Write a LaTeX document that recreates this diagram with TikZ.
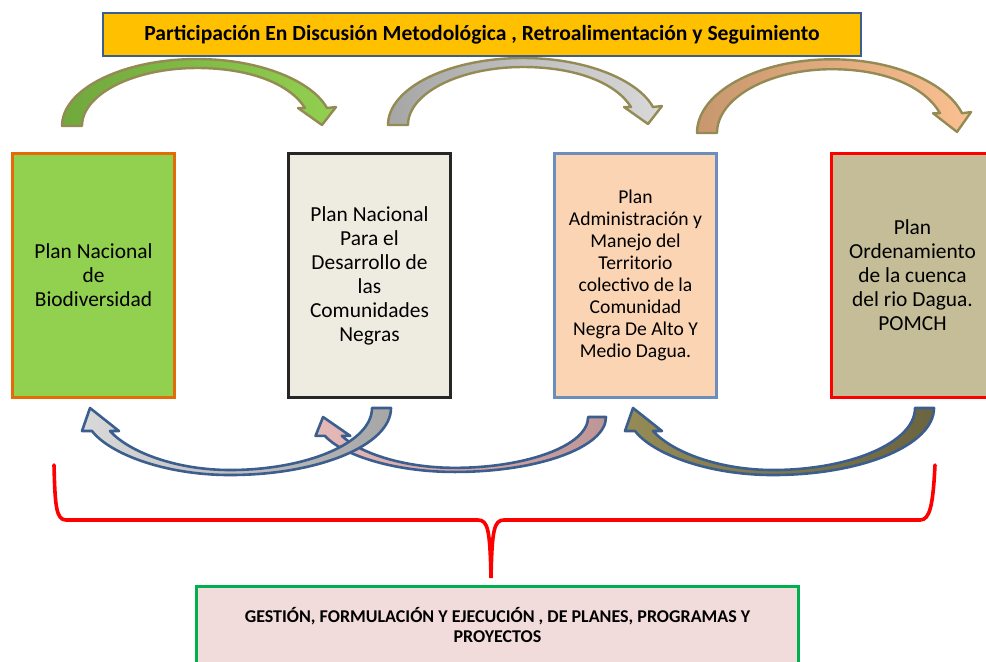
\documentclass[tikz,border=0pt]{standalone}
\usepackage{fontspec}
\setmainfont{Carlito}
\definecolor{grnA}{HTML}{70A83C}
\definecolor{grnB}{HTML}{92D050}
\definecolor{gryA}{HTML}{A6A6A6}
\definecolor{gryB}{HTML}{D9D9D9}
\definecolor{orgA}{HTML}{C8976E}
\definecolor{orgB}{HTML}{FAC090}
\definecolor{pnkA}{HTML}{E6B9B8}
\definecolor{pnkB}{HTML}{BE9696}
\definecolor{olvA}{HTML}{958B55}
\definecolor{olvB}{HTML}{6A6440}
\definecolor{arrowolive}{HTML}{948A54}
\definecolor{arrowblue}{HTML}{3B5E8F}

\begin{document}
\begin{tikzpicture}[x=0.5pt, y=-0.5pt,
  planbox/.style={draw, line width=1.5pt, minimum width=81pt, minimum height=122pt, inner sep=0pt, align=center, font=\fontsize{10.7}{12}\selectfont},
  toparrow/.style={draw=arrowolive, line width=1.2pt, line join=round},
  botarrow/.style={draw=arrowblue, line width=1.3pt, line join=round}]
\useasboundingbox (0,0) rectangle (986,661);
\foreach \px/\py/\ys/\ca/\cb in {62/126/1/grnA/grnB, 388/125/1/gryA/gryB, 697/133/1.1/orgA/orgB}
\draw [toparrow, shift={(\px,\py)}, yscale=\ys, left color=\ca, right color=\cb] (0,0) .. controls (0,-37) and (61,-67) .. (135,-67) .. controls (198,-67) and (250,-45) .. (265,-18) -- (274,-19) -- (260,-1) -- (236,-18) -- (243,-18) .. controls (228,-42) and (188,-58) .. (135,-58) .. controls (72,-58) and (20,-32) .. (20,0) -- cycle;
\foreach \px/\py/\xs/\ys/\ca/\cb in {606/417/0.94/0.82/pnkA/pnkB, 391/408/1/1/gryB/gryA, 934/408/1/1/olvA/olvB}
\draw [botarrow, shift={(\px,\py)}, xscale=\xs, yscale=\ys, left color=\ca, right color=\cb] (0,0) .. controls (0,37) and (-72,67) .. (-161,67) .. controls (-228,67) and (-282,45) .. (-299,23) -- (-309,23) -- (-301,0) -- (-272,23) -- (-281,23) .. controls (-262,44) and (-215,62) .. (-161,62) .. controls (-85,62) and (-19,35) .. (-19,0) -- cycle;
\node [draw={rgb,255:red,59;green,94;blue,143}, line width=1.3pt, fill={rgb,255:red,255;green,192;blue,0}, minimum width=379pt, minimum height=21.5pt, font=\bfseries\fontsize{10.8}{12}\selectfont] (titulo) at (482,34.5) {Participación En Discusión Metodológica , Retroalimentación y Seguimiento};
\node [planbox, draw={rgb,255:red,227;green,108;blue,9}, fill={rgb,255:red,146;green,208;blue,80}] (biodiv) at (93.5,275.5) {Plan Nacional\\de\\Biodiversidad};
\node [planbox, draw={rgb,255:red,38;green,38;blue,38}, fill={rgb,255:red,238;green,236;blue,225}] (desarrollo) at (369.5,275.5) {Plan Nacional\\Para el\\Desarrollo de\\las\\Comunidades\\Negras};
\node [planbox, draw={rgb,255:red,108;green,142;blue,191}, fill={rgb,255:red,251;green,212;blue,180}, font=\fontsize{9.8}{11}\selectfont] (territorio) at (635.5,275.5) {Plan\\Administración y\\Manejo del\\Territorio\\colectivo de la\\Comunidad\\Negra De Alto Y\\Medio Dagua.};
\node [planbox, draw={rgb,255:red,255;green,0;blue,0}, fill={rgb,255:red,196;green,189;blue,151}] (pomch) at (912.5,275.5) {Plan\\Ordenamiento\\de la cuenca\\del rio Dagua.\\POMCH};
\node [draw={rgb,255:red,0;green,176;blue,80}, line width=1.5pt, fill={rgb,255:red,242;green,220;blue,219}, minimum width=301pt, minimum height=38.5pt, align=center, font=\bfseries\fontsize{9}{10}\selectfont] (gestion) at (497.5,625) {GESTIÓN, FORMULACIÓN Y EJECUCIÓN , DE PLANES, PROGRAMAS Y\\PROYECTOS};
\draw [red, line width=1.8pt, line cap=round] (54,465) .. controls (55,505) and (56,520) .. (66,520) -- (478,520) .. controls (488,520) and (490,530) .. (491,578) .. controls (492,530) and (494,520) .. (504,520) -- (920,520) .. controls (930,520) and (933,505) .. (935,465);
\end{tikzpicture}
\end{document}
